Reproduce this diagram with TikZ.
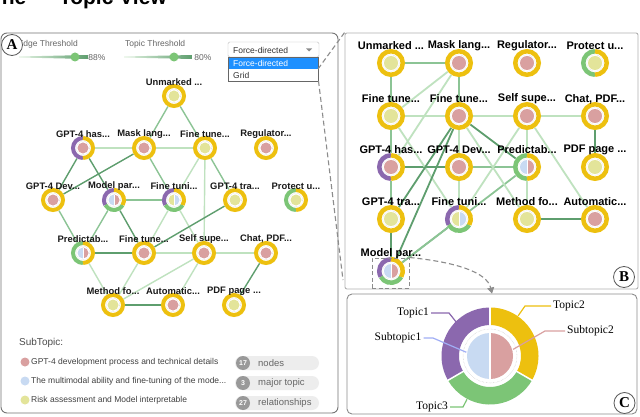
\documentclass[tikz,border=0pt]{standalone}
\usepackage{fontspec}
\setmainfont{Liberation Sans}
\newfontfamily\serifC{Liberation Serif}
\usetikzlibrary{arrows.meta}
\pgfdeclarelayer{bgl}
\pgfdeclarelayer{edgel}
\pgfsetlayers{bgl,edgel,main}
\definecolor{cy}{HTML}{EDC00F}
\definecolor{cpu}{HTML}{8B68AE}
\definecolor{cg}{HTML}{7CC576}
\definecolor{cpk}{HTML}{D9A0A0}
\definecolor{cbl}{HTML}{C8DAF2}
\definecolor{col}{HTML}{E3E49A}
\definecolor{ed}{HTML}{5E9E6E}
\definecolor{em}{HTML}{8CC495}
\definecolor{el}{HTML}{BFE2BF}
\definecolor{hl}{HTML}{1E90FF}
\newcommand\arcseg[4]{\draw[#4,line width=\rgW] ([shift={(#2:\rgR)}]#1.center) arc[start angle=#2,end angle=#3,radius=\rgR];}
\newcommand\ringY[1]{\draw[cy,line width=\rgW] (#1.center) circle[radius=\rgR];}
\newcommand\ringPY[1]{\arcseg{#1}{90}{270}{cpu}\arcseg{#1}{-90}{90}{cy}}
\newcommand\ringGY[1]{\arcseg{#1}{90}{270}{cg}\arcseg{#1}{-90}{90}{cy}}
\newcommand\ringPGY[1]{\arcseg{#1}{90}{210}{cpu}\arcseg{#1}{210}{330}{cg}\arcseg{#1}{-30}{90}{cy}}
\newcommand\inHalf[3]{\fill[#2] (#1.center) -- ++(0,\rgI) arc[start angle=90,end angle=270,radius=\rgI] -- cycle;
  \fill[#3] (#1.center) -- ++(0,-\rgI) arc[start angle=-90,end angle=90,radius=\rgI] -- cycle;
  \draw[white,line width=.5pt] ([yshift=\rgI]#1.center) -- ([yshift=-\rgI]#1.center);}
\newcommand\inP[1]{\fill[cpk] (#1.center) circle[radius=\rgI];}
\newcommand\inO[1]{\fill[col] (#1.center) circle[radius=\rgI];}
\newcommand\inBP[1]{\inHalf{#1}{cbl}{cpk}}
\newcommand\inOB[1]{\inHalf{#1}{col}{cbl}}
\newcommand\tdraw[3]{\csname ring#2\endcsname{#1}\draw[black!30,densely dotted,line width=.3pt] (#1.center) circle[radius=\rgD];\csname in#3\endcsname{#1}}
\newcommand\tn[6]{\node[curN] (#1) at (#2,-#3) {};\tdraw{#1}{#4}{#5}\node[curL] at (#2,-#3+\loff) {#6};}
\tikzset{
  nA/.style={circle,fill=white,minimum size=24pt,inner sep=0pt},
  nB/.style={circle,fill=white,minimum size=28pt,inner sep=0pt},
  lA/.style={font=\bfseries\fontsize{9.4}{11}\selectfont,text=black!90,inner sep=0pt},
  lB/.style={font=\bfseries\fontsize{11}{13}\selectfont,inner sep=0pt},
  tag/.style={circle,draw=black!65,line width=0.8pt,fill=white,minimum size=21pt,inner sep=0pt,font=\serifC\bfseries\fontsize{15}{15}\selectfont},
  ui/.style={font=\fontsize{8.5}{10}\selectfont,text=black!60,inner sep=0pt},
  leg/.style={font=\fontsize{8.5}{10}\selectfont,text=black!75,inner sep=0pt,anchor=west},
  legdot/.style={circle,fill=#1,minimum size=9pt,inner sep=0pt},
  pill/.style={fill=black!7,rounded corners=7pt,minimum width=84pt,minimum height=14pt,inner sep=0pt},
  pilln/.style={circle,fill=black!40,text=white,font=\bfseries\fontsize{7}{8}\selectfont,minimum size=14pt,inner sep=0pt},
  pillt/.style={font=\fontsize{9.5}{11}\selectfont,text=black!60,anchor=west,inner sep=0pt},
  clbl/.style={font=\serifC\fontsize{11.5}{13}\selectfont,inner sep=0pt},
  lead/.style={line width=1.2pt,draw=#1},
  dashline/.style={draw=black!45,line width=1.1pt,dash pattern=on 5pt off 3pt},
  knob/.style={circle,fill=cg,minimum size=9pt,inner sep=0pt},
}
\begin{document}
\begin{tikzpicture}[x=1pt,y=1pt]
\useasboundingbox (0,0) rectangle (640,-417);
\begin{pgfonlayer}{bgl}
\fill[white] (0,0) rectangle (640,-417);
\end{pgfonlayer}
% title (cut at top, as in the reference)
\begin{scope}
\clip (0,0) rectangle (640,-417);
\node[anchor=base east,inner sep=0pt,font=\bfseries\fontsize{21}{21}\selectfont] (title) at (167,-5) {ne — Topic View};
\end{scope}
% panels
\node[draw=black!55,line width=0.9pt,rounded corners=6pt,minimum width=337pt,minimum height=380pt,inner sep=0pt] (PA) at (169.5,-223) {};
\node[draw=black!30,line width=0.9pt,rounded corners=2pt,minimum width=293pt,minimum height=256pt,inner sep=0pt] (PB) at (491.5,-161) {};
\node[draw=black!45,line width=0.9pt,rounded corners=5pt,minimum width=290pt,minimum height=120pt,inner sep=0pt] (PC) at (492,-354) {};
% sliders
\node[ui,anchor=east] (et) at (78,-44) {Edge Threshold};
\shade[left color=cg!20,right color=ed] (19,-56.5) -- (88,-55) -- (88,-59) -- (19,-57.5) -- cycle;
\node[knob] (k1) at (75,-57) {};
\node[ui] (p88) at (97,-57.5) {88\%};
\node[ui,anchor=west] (tt) at (125,-44) {Topic Threshold};
\shade[left color=cg!20,right color=ed] (124,-56.5) -- (192,-55) -- (192,-59) -- (124,-57.5) -- cycle;
\node[knob] (k2) at (174,-57) {};
\node[ui] (p80) at (203,-57.5) {80\%};
\node[tag] (tagA) at (12,-45) {A};
% dropdown
\node[draw=black!25,fill=white,rounded corners=1.5pt,minimum width=91pt,minimum height=15pt,inner sep=0pt] (dd) at (273.5,-49.5) {};
\node[ui,anchor=west,text=black!80] at (233,-50) {Force-directed};
\fill[black!45] (306,-48.5) -- (312,-48.5) -- (309,-51.5) -- cycle;
\node[draw=black!60,fill=white,line width=0.7pt,minimum width=90pt,minimum height=24pt,inner sep=0pt] (ddl) at (273,-69) {};
\fill[hl] (228.5,-58.5) rectangle (317.5,-69);
\node[ui,anchor=west,text=white] at (233,-63.8) {Force-directed};
\node[ui,anchor=west,text=black!80] at (233,-75) {Grid};
\coordinate (dd1) at (318,-69);
\coordinate (dd2) at (318.5,-81);
\coordinate (pbl) at (343,-280);
\draw[dashline] (dd1) -- (PB.north west);
\draw[dashline] (dd2) -- (pbl);
% panel A nodes
\def\rgR{10pt}\def\rgW{4pt}\def\rgI{5.5pt}\def\rgD{6.8pt}\def\loff{14}
\tikzset{curN/.style={nA},curL/.style={lA}}
\tn{aUn}{174}{96}{Y}{O}{Unmarked ...}
\tn{aGh}{83}{148}{PY}{P}{GPT-4 has...}
\tn{aMl}{144}{148}{Y}{P}{Mask lang...}
\tn{aFo}{205}{148}{Y}{O}{Fine tune...}
\tn{aRg}{266}{148}{Y}{P}{Regulator...}
\tn{aGd}{53}{200}{Y}{P}{GPT-4 Dev...}
\tn{aMp}{114}{200}{PGY}{BP}{Model par...}
\tn{aFi}{174}{200}{PGY}{OB}{Fine tuni...}
\tn{aGt}{235}{200}{Y}{O}{GPT-4 tra...}
\tn{aPu}{296}{200}{GY}{O}{Protect u...}
\tn{aPr}{83}{253}{GY}{BP}{Predictab...}
\tn{aFp}{144}{253}{Y}{P}{Fine tune...}
\tn{aSs}{204}{253}{Y}{P}{Self supe...}
\tn{aCp}{266}{253}{Y}{P}{Chat, PDF...}
\tn{aMf}{113}{305}{Y}{O}{Method fo...}
\tn{aAu}{173}{305}{Y}{P}{Automatic...}
\tn{aPp}{234}{305}{Y}{O}{PDF page ...}
% panel B nodes
\def\rgR{11.75pt}\def\rgW{4.5pt}\def\rgI{7pt}\def\rgD{8.3pt}\def\loff{17}
\tikzset{curN/.style={nB},curL/.style={lB}}
\tn{bUn}{391}{63}{Y}{O}{Unmarked ...}
\tn{bMl}{459}{63}{Y}{P}{Mask lang...}
\tn{bRg}{527}{63}{Y}{P}{Regulator...}
\tn{bPu}{595}{63}{GY}{O}{Protect u...}
\tn{bFo}{391}{116}{Y}{O}{Fine tune...}
\tn{bFp}{459}{116}{Y}{P}{Fine tune...}
\tn{bSs}{527}{116}{Y}{P}{Self supe...}
\tn{bCp}{595}{116}{Y}{P}{Chat, PDF...}
\tn{bGh}{391}{167}{PY}{P}{GPT-4 has...}
\tn{bGd}{459}{167}{Y}{P}{GPT-4 Dev...}
\tn{bPr}{527}{167}{GY}{BP}{Predictab...}
\tn{bPp}{595}{167}{Y}{O}{PDF page ...}
\tn{bGt}{391}{219}{Y}{O}{GPT-4 tra...}
\tn{bFi}{459}{219}{PGY}{OB}{Fine tuni...}
\tn{bMf}{527}{219}{Y}{O}{Method fo...}
\tn{bAu}{595}{219}{Y}{P}{Automatic...}
\tn{bMp}{391}{271}{PGY}{BP}{Model par...}
% edges
\begin{pgfonlayer}{edgel}
\foreach \u/\v/\c in {Un/Ml/em,Un/Fo/em,Gh/Ml/el,Ml/Fo/el,Gh/Gd/ed,Gh/Mp/ed,Ml/Gd/ed,Ml/Fi/em,Fo/Fi/el,Fo/Ss/el,Fo/Gt/em,Mp/Fi/em,Gd/Pr/em,Mp/Pr/em,Mp/Fp/ed,Fi/Fp/el,Fi/Ss/el,Gt/Fp/ed,Pr/Fp/ed,Fp/Ss/el,Ss/Cp/el,Pr/Mf/el,Fp/Mf/el,Ss/Mf/el,Ss/Au/el,Cp/Pp/ed,Mf/Au/ed}{
  \draw[\c,line width=1.4pt] (a\u) -- (a\v);
  \draw[\c,line width=1.8pt] (b\u) -- (b\v);
}
\end{pgfonlayer}
\node[tag] (tagB) at (624,-277) {B};
% highlight box and arrow
\node[draw=black!45,line width=1pt,dash pattern=on 4pt off 2.5pt,minimum width=37pt,minimum height=30pt,inner sep=0pt] (mpbox) at (390.5,-273) {};
\draw[dashline,-{Triangle[length=6pt,width=7pt]}] (mpbox.north east) .. controls (455,-262) and (487,-272) .. (PC.north);
% legend
\node[font=\fontsize{10}{12}\selectfont,text=black!70,anchor=west,inner sep=0pt] (subt) at (19,-343) {SubTopic:};
\node[legdot=cpk] (ld1) at (25,-362) {};
\node[leg] at (31,-362) {GPT-4 development process and technical details};
\node[legdot=cbl] (ld2) at (25,-381) {};
\node[leg] at (31,-381) {The multimodal ability and fine-tuning of the mode...};
\node[legdot=col] (ld3) at (25,-400) {};
\node[leg] at (31,-400) {Risk assessment and Model interpretable};
\node[pill] (pl1) at (277,-363) {};
\node[pilln] at (243,-363) {17};
\node[pillt] at (258,-363) {nodes};
\node[pill] (pl2) at (277,-383) {};
\node[pilln] at (243,-383) {3};
\node[pillt] at (258,-383) {major topic};
\node[pill] (pl3) at (277,-403) {};
\node[pilln] at (243,-403) {27};
\node[pillt] at (258,-403) {relationships};
% panel C donut
\node[circle,minimum size=98pt,inner sep=0pt] (donut) at (490,-356) {};
\draw[cy,line width=17.5pt] ([shift={(90:39.75pt)}]donut.center) arc[start angle=90,end angle=-30,radius=39.75pt];
\draw[cg,line width=17.5pt] ([shift={(-30:39.75pt)}]donut.center) arc[start angle=-30,end angle=-150,radius=39.75pt];
\draw[cpu,line width=17.5pt] ([shift={(210:39.75pt)}]donut.center) arc[start angle=210,end angle=90,radius=39.75pt];
\foreach \a in {90,-30,210}{\draw[white,line width=1.5pt] ([shift={(\a:30pt)}]donut.center) -- ([shift={(\a:50pt)}]donut.center);}
\draw[black!25,densely dotted,line width=.4pt] (donut.center) circle[radius=27pt];
\fill[cbl] (donut.center) -- ++(0,23pt) arc[start angle=90,end angle=270,radius=23pt] -- cycle;
\fill[cpk] (donut.center) -- ++(0,-23pt) arc[start angle=-90,end angle=90,radius=23pt] -- cycle;
\draw[white,line width=1.2pt] ([yshift=23pt]donut.center) -- ([yshift=-23pt]donut.center);
\node[clbl] (t1) at (413,-313) {Topic1};
\node[clbl,anchor=west] (t2) at (553,-306) {Topic2};
\node[clbl] (s1) at (398,-338) {Subtopic1};
\node[clbl,anchor=west] (s2) at (567,-331) {Subtopic2};
\node[clbl] (t3) at (432,-407) {Topic3};
\draw[lead=cpu] ([xshift=2pt]t1.east) -- (449,-313) -- ([shift={(135:47pt)}]donut.center);
\draw[lead=cy] ([xshift=-2pt]t2.west) -- (525,-306) -- ([shift={(55:49pt)}]donut.center);
\draw[lead=cbl!80!blue] ([xshift=2pt]s1.east) -- (433,-338) -- ([shift={(171:24pt)}]donut.center);
\draw[lead=cpk] ([xshift=-2pt]s2.west) -- (545,-331) -- ([shift={(16:24pt)}]donut.center);
\draw[lead=cg] ([xshift=2pt]t3.east) -- (463,-407) -- ([shift={(242:49pt)}]donut.center);
\node[tag] (tagC) at (624.5,-403) {C};
\end{tikzpicture}
\end{document}
